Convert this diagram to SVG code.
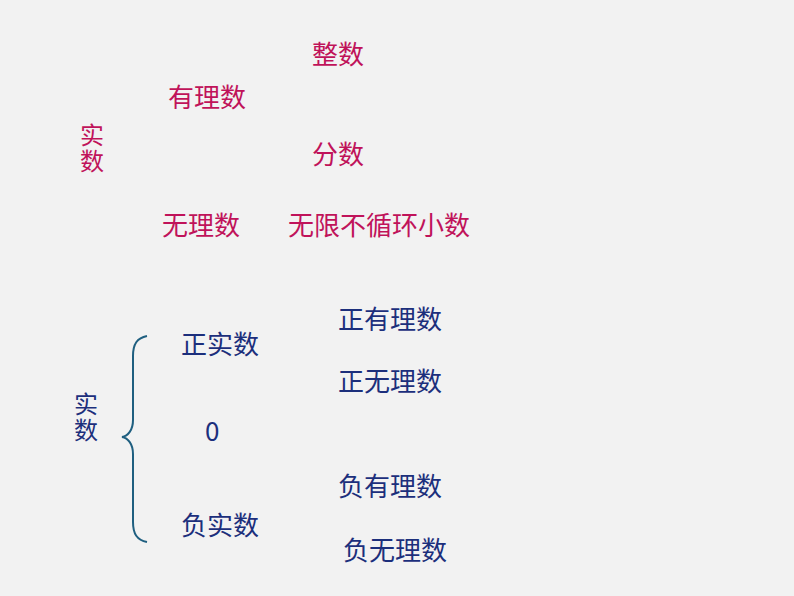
<svg xmlns="http://www.w3.org/2000/svg" width="794" height="596" viewBox="0 0 794 596">
<style>
text{font-family:"Noto Sans CJK SC","Liberation Sans",sans-serif;font-size:26px}
.m{fill:#c0135a}
.b{fill:#1c2f7c}
.s{font-size:24px}
</style>
<rect width="794" height="596" fill="#f2f2f2"/>
<g id="top">
<text class="m" x="312" y="64">整数</text>
<text class="m" x="168" y="107">有理数</text>
<text class="m s" x="80" y="144">实</text>
<text class="m s" x="80" y="170">数</text>
<text class="m" x="312" y="164">分数</text>
<text class="m" x="162" y="235">无理数</text>
<text class="m" x="288" y="235">无限不循环小数</text>
</g>
<g id="bottom">
<text class="b s" x="74" y="413">实</text>
<text class="b s" x="74" y="439">数</text>
<text class="b" x="181" y="354">正实数</text>
<text class="b" x="205" y="441">0</text>
<text class="b" x="181" y="535">负实数</text>
<text class="b" x="338" y="329">正有理数</text>
<text class="b" x="338" y="391">正无理数</text>
<text class="b" x="338" y="496">负有理数</text>
<text class="b" x="343" y="560">负无理数</text>
</g>
<g id="connectors">
<path d="M147,336 C137,338 133,344 133,356 L133,420 C133,430 128,436 122,437 C128,438 133,444 133,454 L133,522 C133,534 137,540 147,542" fill="none" stroke="#1f5f80" stroke-width="2"/>
</g>
</svg>
